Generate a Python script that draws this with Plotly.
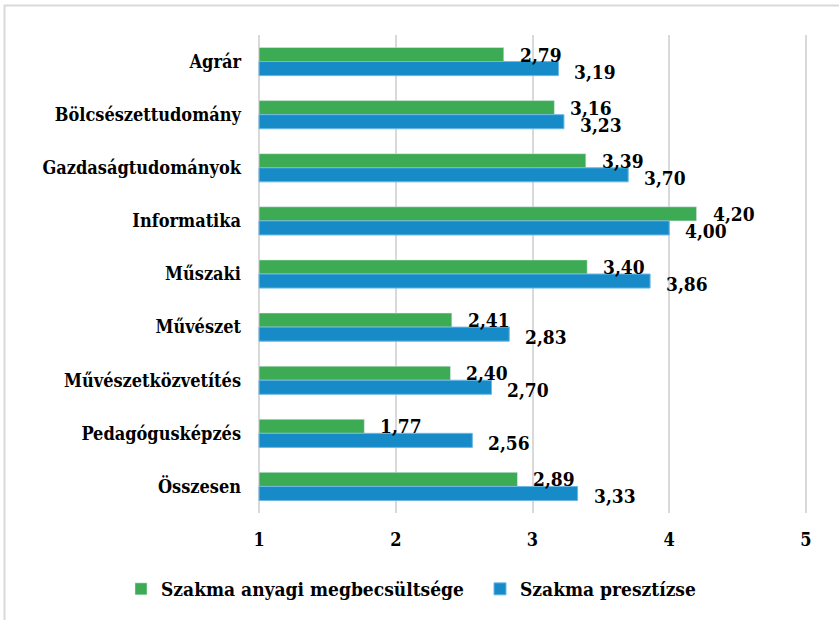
import plotly.graph_objects as go

# Categories (top to bottom) and the two survey series
categories = ["Agrár", "Bölcsészettudomány", "Gazdaságtudományok", "Informatika",
              "Műszaki", "Művészet", "Művészetközvetítés", "Pedagógusképzés", "Összesen"]
anyagi = [2.79, 3.16, 3.39, 4.20, 3.40, 2.41, 2.40, 1.77, 2.89]
presztizs = [3.19, 3.23, 3.70, 4.00, 3.86, 2.83, 2.70, 2.56, 3.33]
series_names = ["Szakma anyagi megbecsültsége", "Szakma presztízse"]
x_ticks = [1, 2, 3, 4, 5]

GREEN = "#3dab54"
BLUE = "#168bc8"
SERIF = "DejaVu Serif Condensed, DejaVu Serif, serif"

W, H = 839, 620
ML, MR, MT, MB = 257, 31, 35, 107
PW, PH = W - ML - MR, H - MT - MB


def px_x(p):
    return (p - ML) / PW


def px_y(p):
    return 1 - (p - MT) / PH


def fmt(v):
    return f"{v:.2f}".replace(".", ",")


fig = go.Figure()
fig.add_trace(go.Bar(y=categories, x=[v - 1 for v in anyagi], base=1, orientation="h",
                     name=series_names[0], marker=dict(color=GREEN)))
fig.add_trace(go.Bar(y=categories, x=[v - 1 for v in presztizs], base=1, orientation="h",
                     name=series_names[1], marker=dict(color=BLUE, line=dict(color="#6cb8e4", width=1))))

half = (1 - 0.47) / 4
label_font = dict(family=SERIF, size=19, color="#000000", weight="bold")
annotations = []
for i, (g, b) in enumerate(zip(anyagi, presztizs)):
    annotations.append(dict(x=g, y=i - half, xref="x", yref="y", text=fmt(g), showarrow=False,
                            xanchor="left", yanchor="middle", xshift=14, yshift=0, font=label_font))
    annotations.append(dict(x=b, y=i + half, xref="x", yref="y", text=fmt(b), showarrow=False,
                            xanchor="left", yanchor="middle", xshift=14, yshift=-3, font=label_font))

fig.update_layout(
    width=W, height=H,
    margin=dict(l=ML, r=MR, t=MT, b=MB),
    paper_bgcolor="white", plot_bgcolor="white",
    barmode="group", bargap=0.47, bargroupgap=0,
    font=dict(family=SERIF, size=18, color="#000000", weight="bold"),
    xaxis=dict(range=[0.985, 5.015], tickvals=x_ticks, ticktext=[str(t) for t in x_ticks],
               showgrid=True, gridcolor="#d9d9d9", gridwidth=2, zeroline=False,
               showline=False, ticks="", ticklabelstandoff=14,
               tickfont=dict(family=SERIF, size=18, weight="bold")),
    yaxis=dict(type="category", autorange="reversed", showgrid=False, showline=False,
               ticks="", ticklabelstandoff=15,
               tickfont=dict(family=SERIF, size=18, weight="bold")),
    legend=dict(orientation="h", x=px_x(162), y=px_y(589), xanchor="left", yanchor="middle",
                font=dict(family=SERIF, size=19, weight="bold"), traceorder="normal",
                itemwidth=30, entrywidth=314),
    annotations=annotations,
    shapes=[dict(type="rect", xref="paper", yref="paper",
                 x0=px_x(4.5), x1=px_x(841), y0=px_y(622), y1=px_y(5.5),
                 line=dict(color="#d9d9d9", width=2), fillcolor="rgba(0,0,0,0)", layer="below")],
)

fig.write_html("out.html")
